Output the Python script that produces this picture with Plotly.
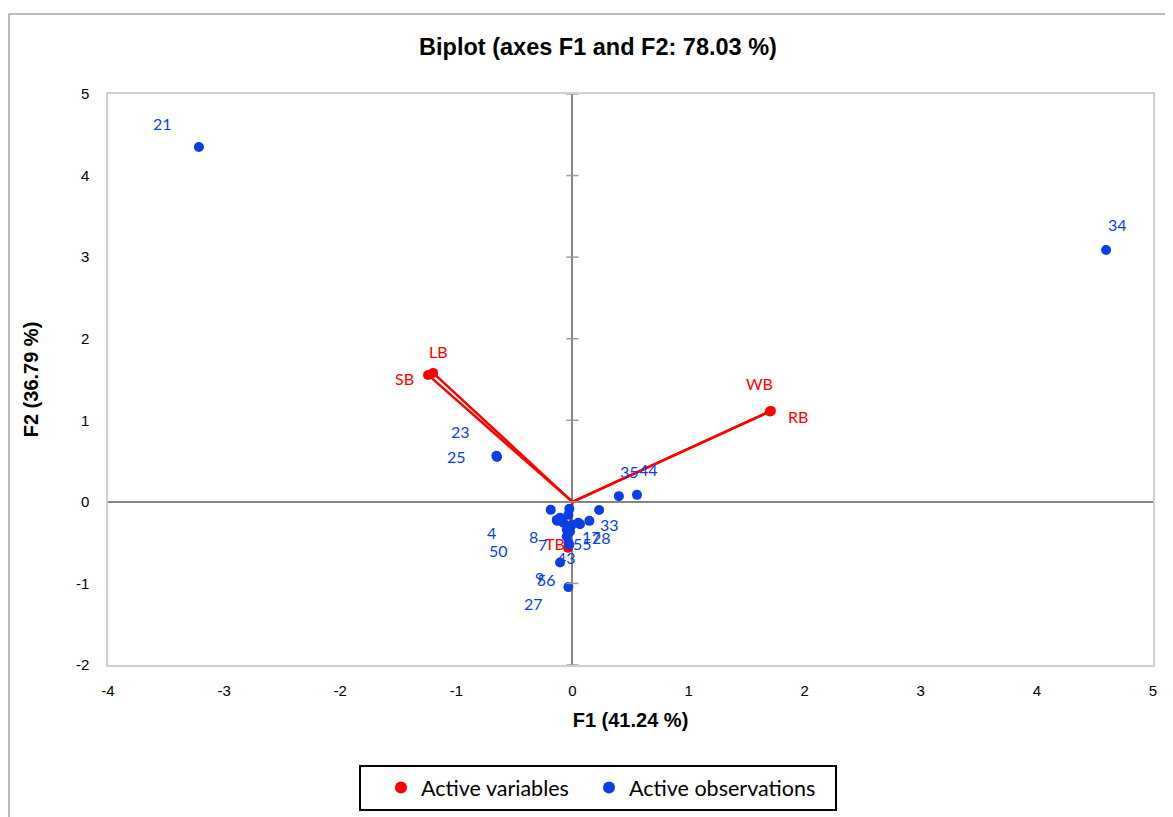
import plotly.graph_objects as go

# ---------------- data ----------------
var_names = ["LB", "SB", "WB", "RB", "TB"]
var_x = [-1.200, -1.244, 1.709, 1.700, -0.038]
var_y = [1.581, 1.556, 1.115, 1.108, -0.564]

obs_labels = ["21", "34", "23", "25", "35", "44", "33", "43", "27",
              "8", "4", "50", "7", "55", "17", "28", "9", "56",
              "1", "2", "3", "5", "6", "10", "11"]
obs_x = [-3.217, 4.596, -0.655, -0.650, 0.400, 0.556, 0.230, -0.107, -0.035,
         -0.135, -0.187, -0.107, -0.078, -0.021, 0.146, 0.065, -0.049, -0.035,
         -0.035, -0.027, -0.049, -0.006, 0.051, -0.027, -0.130]
obs_y = [4.350, 3.088, 0.565, 0.550, 0.070, 0.086, -0.100, -0.744, -1.045,
         -0.221, -0.098, -0.196, -0.257, -0.364, -0.233, -0.273, -0.425, -0.502,
         -0.159, -0.086, -0.343, -0.282, -0.257, -0.527, -0.233]

x_ticks = [-4, -3, -2, -1, 0, 1, 2, 3, 4, 5]
x_tick_text = ["-4", "-3", "-2", "-1", "0", "1", "2", "3", "4", "5"]
y_ticks = [-2, -1, 0, 1, 2, 3, 4, 5]
y_tick_text = ["-2", "-1", "0", "1", "2", "3", "4", "5"]

title_text = "Biplot (axes F1 and F2: 78.03 %)"
x_title = "F1 (41.24 %)"
y_title = "F2 (36.79 %)"

# label offsets in screen pixels (dx right, dy down) for labels visible in the chart
var_label_shift = {"LB": (5, -21), "SB": (-24, 4), "WB": (-11, -27), "RB": (28, 5), "TB": (-13, -4)}
obs_label_shift = {"21": (-36, -24), "34": (11, -25), "23": (-36, -24), "25": (-40, 0),
                   "35": (11, -25), "44": (11, -25), "33": (10, 14), "43": (6, -5),
                   "27": (-35, 16), "8": (-23, 17), "4": (-59, 23), "50": (-62, 33),
                   "7": (-21, 22), "55": (12, 12), "17": (2, 16), "28": (22, 13),
                   "9": (-27, 41), "56": (-22, 37)}

RED = "#FF0000"
BLUE = "#0A3FE6"
LABEL_FONT = "Lato, Open Sans, Liberation Sans, sans-serif"
AXIS_FONT = "Liberation Sans, Arial, sans-serif"

# figure geometry (page body has an 8px margin)
W, H = 1165, 809
ML, MR, MT, MB = 100, 20, 86, 152
PW = W - ML - MR
PH = H - MT - MB

fig = go.Figure()

# variable vectors
for n, vx, vy in zip(var_names, var_x, var_y):
    fig.add_trace(go.Scatter(x=[0, vx], y=[0, vy], mode="lines",
                             line=dict(color=RED, width=2.5),
                             showlegend=False, hoverinfo="skip"))

fig.add_trace(go.Scatter(x=var_x, y=var_y, mode="markers", name="Active variables",
                         marker=dict(color=RED, size=10), text=var_names, legend="legend"))
fig.add_trace(go.Scatter(x=obs_x, y=obs_y, mode="markers", name="Active observations",
                         marker=dict(color=BLUE, size=10), text=obs_labels, legend="legend2"))

annotations = []
for n, vx, vy in zip(var_names, var_x, var_y):
    if n in var_label_shift:
        dx, dy = var_label_shift[n]
        annotations.append(dict(x=vx, y=vy, text=n, showarrow=False, xshift=dx, yshift=-dy,
                                font=dict(color=RED, size=16, family=LABEL_FONT)))
for n, ox, oy in zip(obs_labels, obs_x, obs_y):
    if n in obs_label_shift:
        dx, dy = obs_label_shift[n]
        annotations.append(dict(x=ox, y=oy, text=n, showarrow=False, xshift=dx, yshift=-dy,
                                font=dict(color=BLUE, size=16, family=LABEL_FONT)))

shapes = []
# cross ticks on the vertical zero axis
for t in y_ticks:
    shapes.append(dict(type="line", xref="x", yref="y", xsizemode="pixel", xanchor=0,
                       x0=-6, x1=6, y0=t, y1=t, line=dict(color="#9A9A9A", width=1.5)))
# outer chart border
shapes.append(dict(type="rect", xref="paper", yref="paper",
                   x0=(1 - ML) / PW, x1=1.2, y0=-0.5, y1=(MT + PH - 6) / PH,
                   line=dict(color="#A6A6A6", width=1.5), layer="below"))
# legend box
shapes.append(dict(type="rect", xref="paper", yref="paper",
                   x0=(352 - ML) / PW, x1=(828 - ML) / PW,
                   y0=(MT + PH - 802) / PH, y1=(MT + PH - 758) / PH,
                   line=dict(color="black", width=2)))

legend_common = dict(orientation="h", xanchor="left", yanchor="top",
                     y=(MT + PH - 759) / PH, borderwidth=0, bgcolor="rgba(0,0,0,0)",
                     font=dict(family=LABEL_FONT, size=21.5, color="black"),
                     itemsizing="constant")

fig.update_layout(
    width=W, height=H,
    margin=dict(l=ML, r=MR, t=MT, b=MB, autoexpand=False),
    paper_bgcolor="white", plot_bgcolor="white",
    title=dict(text="<b>" + title_text + "</b>", xref="container", yref="container",
               x=590 / W, y=1 - 39 / H, xanchor="center", yanchor="middle",
               font=dict(family=AXIS_FONT, size=23.5, color="black")),
    xaxis=dict(range=[-4, 5], tickvals=x_ticks, ticktext=x_tick_text, showgrid=False,
               zeroline=True, zerolinecolor="#868686", zerolinewidth=2,
               showline=True, mirror=True, linecolor="#D0D0D0", linewidth=1.5,
               ticks="", ticklabelstandoff=11, automargin=False,
               tickfont=dict(family=AXIS_FONT, size=15, color="black"),
               title=dict(text="<b>" + x_title + "</b>", standoff=15,
                          font=dict(family=AXIS_FONT, size=20, color="black"))),
    yaxis=dict(range=[-2, 5], tickvals=y_ticks, ticktext=y_tick_text, showgrid=False,
               zeroline=True, zerolinecolor="#868686", zerolinewidth=2,
               showline=True, mirror=True, linecolor="#D0D0D0", linewidth=1.5,
               ticks="", ticklabelstandoff=14, automargin=False,
               tickfont=dict(family=AXIS_FONT, size=15, color="black"),
               title=dict(text="<b>" + y_title + "</b>", standoff=32,
                          font=dict(family=AXIS_FONT, size=20, color="black"))),
    legend=dict(legend_common, x=(373 - ML) / PW),
    legend2=dict(legend_common, x=(581 - ML) / PW),
    annotations=annotations, shapes=shapes,
    showlegend=True,
)

fig.write_html("out.html")
